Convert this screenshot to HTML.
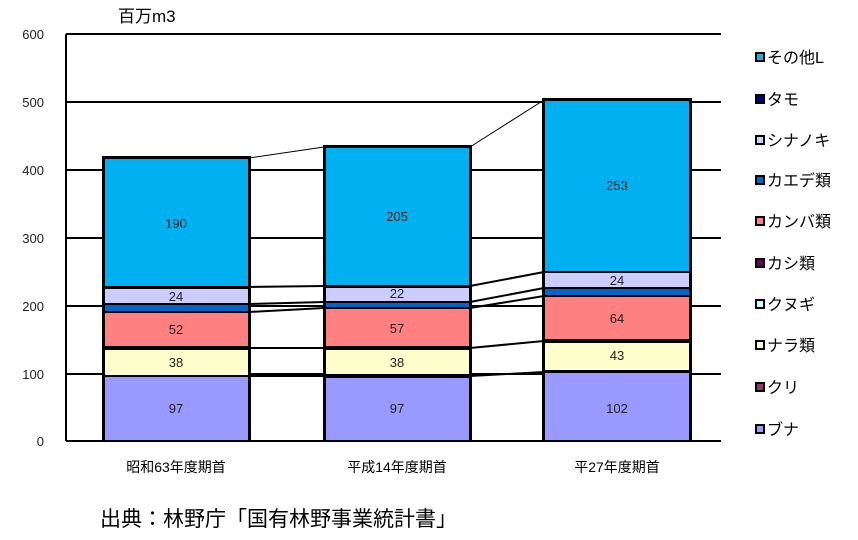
<!DOCTYPE html>
<html><head><meta charset="utf-8"><style>
body{margin:0;background:#fff;}
svg text{font-family:"Liberation Sans","Noto Sans CJK JP",sans-serif;}
</style></head><body>
<svg width="858" height="535" viewBox="0 0 858 535" xmlns="http://www.w3.org/2000/svg">
<rect width="858" height="535" fill="#fff"/>
<g stroke="#000" stroke-width="2">
<line x1="66" y1="34" x2="721" y2="34"/>
<line x1="66" y1="102" x2="721" y2="102"/>
<line x1="66" y1="170" x2="721" y2="170"/>
<line x1="66" y1="238" x2="721" y2="238"/>
<line x1="66" y1="306" x2="721" y2="306"/>
<line x1="66" y1="374" x2="721" y2="374"/>
<line x1="66" y1="441" x2="721" y2="441"/>
<line x1="66" y1="34" x2="66" y2="441"/>
</g>
<g stroke="#000" stroke-width="1" fill="none">
<line x1="249" y1="158" x2="324" y2="147"/>
<line x1="470" y1="147" x2="544" y2="100"/>
</g>
<g stroke="#000" stroke-width="2">
<line x1="249" y1="287" x2="324" y2="286"/>
<line x1="249" y1="304" x2="324" y2="302"/>
<line x1="249" y1="312" x2="324" y2="308"/>
<line x1="249" y1="348" x2="324" y2="348"/>
<line x1="249" y1="376" x2="324" y2="376"/>
<line x1="470" y1="286" x2="544" y2="272"/>
<line x1="470" y1="302" x2="544" y2="288"/>
<line x1="470" y1="308" x2="544" y2="296"/>
<line x1="470" y1="348" x2="544" y2="341"/>
<line x1="470" y1="376" x2="544" y2="372"/>
</g>
<!-- bar1 -->
<rect x="102" y="156" width="149" height="286" fill="#000"/>
<rect x="105" y="159" width="143" height="127" fill="#00b0f0"/>
<rect x="105" y="289" width="143" height="14" fill="#ccccff"/>
<rect x="105" y="305" width="143" height="6" fill="#0066cc"/>
<rect x="105" y="313" width="143" height="33" fill="#ff8080"/>
<rect x="105" y="350" width="143" height="25" fill="#ffffcc"/>
<rect x="105" y="377" width="143" height="63" fill="#9999ff"/>
<!-- bar2 -->
<rect x="323" y="145" width="149" height="297" fill="#000"/>
<rect x="326" y="148" width="143" height="137" fill="#00b0f0"/>
<rect x="326" y="288" width="143" height="13" fill="#ccccff"/>
<rect x="326" y="303" width="143" height="4" fill="#0066cc"/>
<rect x="326" y="309" width="143" height="37" fill="#ff8080"/>
<rect x="326" y="350" width="143" height="24" fill="#ffffcc"/>
<rect x="326" y="378" width="143" height="62" fill="#9999ff"/>
<!-- bar3 -->
<rect x="542" y="98" width="150" height="344" fill="#000"/>
<rect x="545" y="101" width="144" height="170" fill="#00b0f0"/>
<rect x="545" y="273" width="144" height="14" fill="#ccccff"/>
<rect x="545" y="289" width="144" height="6" fill="#0066cc"/>
<rect x="545" y="297" width="144" height="42" fill="#ff8080"/>
<rect x="545" y="343" width="144" height="27" fill="#ffffcc"/>
<rect x="545" y="373" width="144" height="67" fill="#9999ff"/>
<g font-size="13" fill="#222" text-anchor="middle">
<text x="176" y="228">190</text><text x="176" y="301">24</text><text x="176" y="334">52</text><text x="176" y="367">38</text><text x="176" y="413">97</text>
<text x="397" y="221">205</text><text x="397" y="298">22</text><text x="397" y="333">57</text><text x="397" y="367">38</text><text x="397" y="413">97</text>
<text x="617" y="190">253</text><text x="617" y="285">24</text><text x="617" y="323">64</text><text x="617" y="360">43</text><text x="617" y="413">102</text>
</g>
<g font-size="13" fill="#222" text-anchor="end">
<text x="44" y="39">600</text><text x="44" y="107">500</text><text x="44" y="175">400</text><text x="44" y="243">300</text><text x="44" y="311">200</text><text x="44" y="379">100</text><text x="44" y="446">0</text>
</g>
<text x="118" y="22" font-size="17" fill="#000">百万m3</text>
<g font-size="14" fill="#000" text-anchor="middle">
<text x="176" y="472">昭和63年度期首</text><text x="397" y="472">平成14年度期首</text><text x="617" y="472">平27年度期首</text>
</g>
<text x="100" y="526" font-size="21" fill="#000">出典：林野庁「国有林野事業統計書」</text>
<g stroke="#000" stroke-width="2">
<rect x="756" y="53" width="8" height="8" fill="#1fb0e0"/>
<rect x="756" y="95" width="8" height="8" fill="#000080"/>
<rect x="756" y="136" width="8" height="8" fill="#ccccff"/>
<rect x="756" y="176" width="8" height="8" fill="#0066cc"/>
<rect x="756" y="217" width="8" height="8" fill="#ff8080"/>
<rect x="756" y="259" width="8" height="8" fill="#660066"/>
<rect x="756" y="300" width="8" height="8" fill="#ccffff"/>
<rect x="756" y="341" width="8" height="8" fill="#ffffcc"/>
<rect x="756" y="383" width="8" height="8" fill="#993366"/>
<rect x="756" y="425" width="8" height="8" fill="#9999ff"/>
</g>
<g font-size="16" fill="#000">
<text x="767" y="63">その他L</text><text x="767" y="105">タモ</text><text x="767" y="146">シナノキ</text><text x="767" y="186">カエデ類</text><text x="767" y="227">カンバ類</text><text x="767" y="269">カシ類</text><text x="767" y="310">クヌギ</text><text x="767" y="351">ナラ類</text><text x="767" y="393">クリ</text><text x="767" y="435">ブナ</text>
</g>
</svg>
</body></html>
